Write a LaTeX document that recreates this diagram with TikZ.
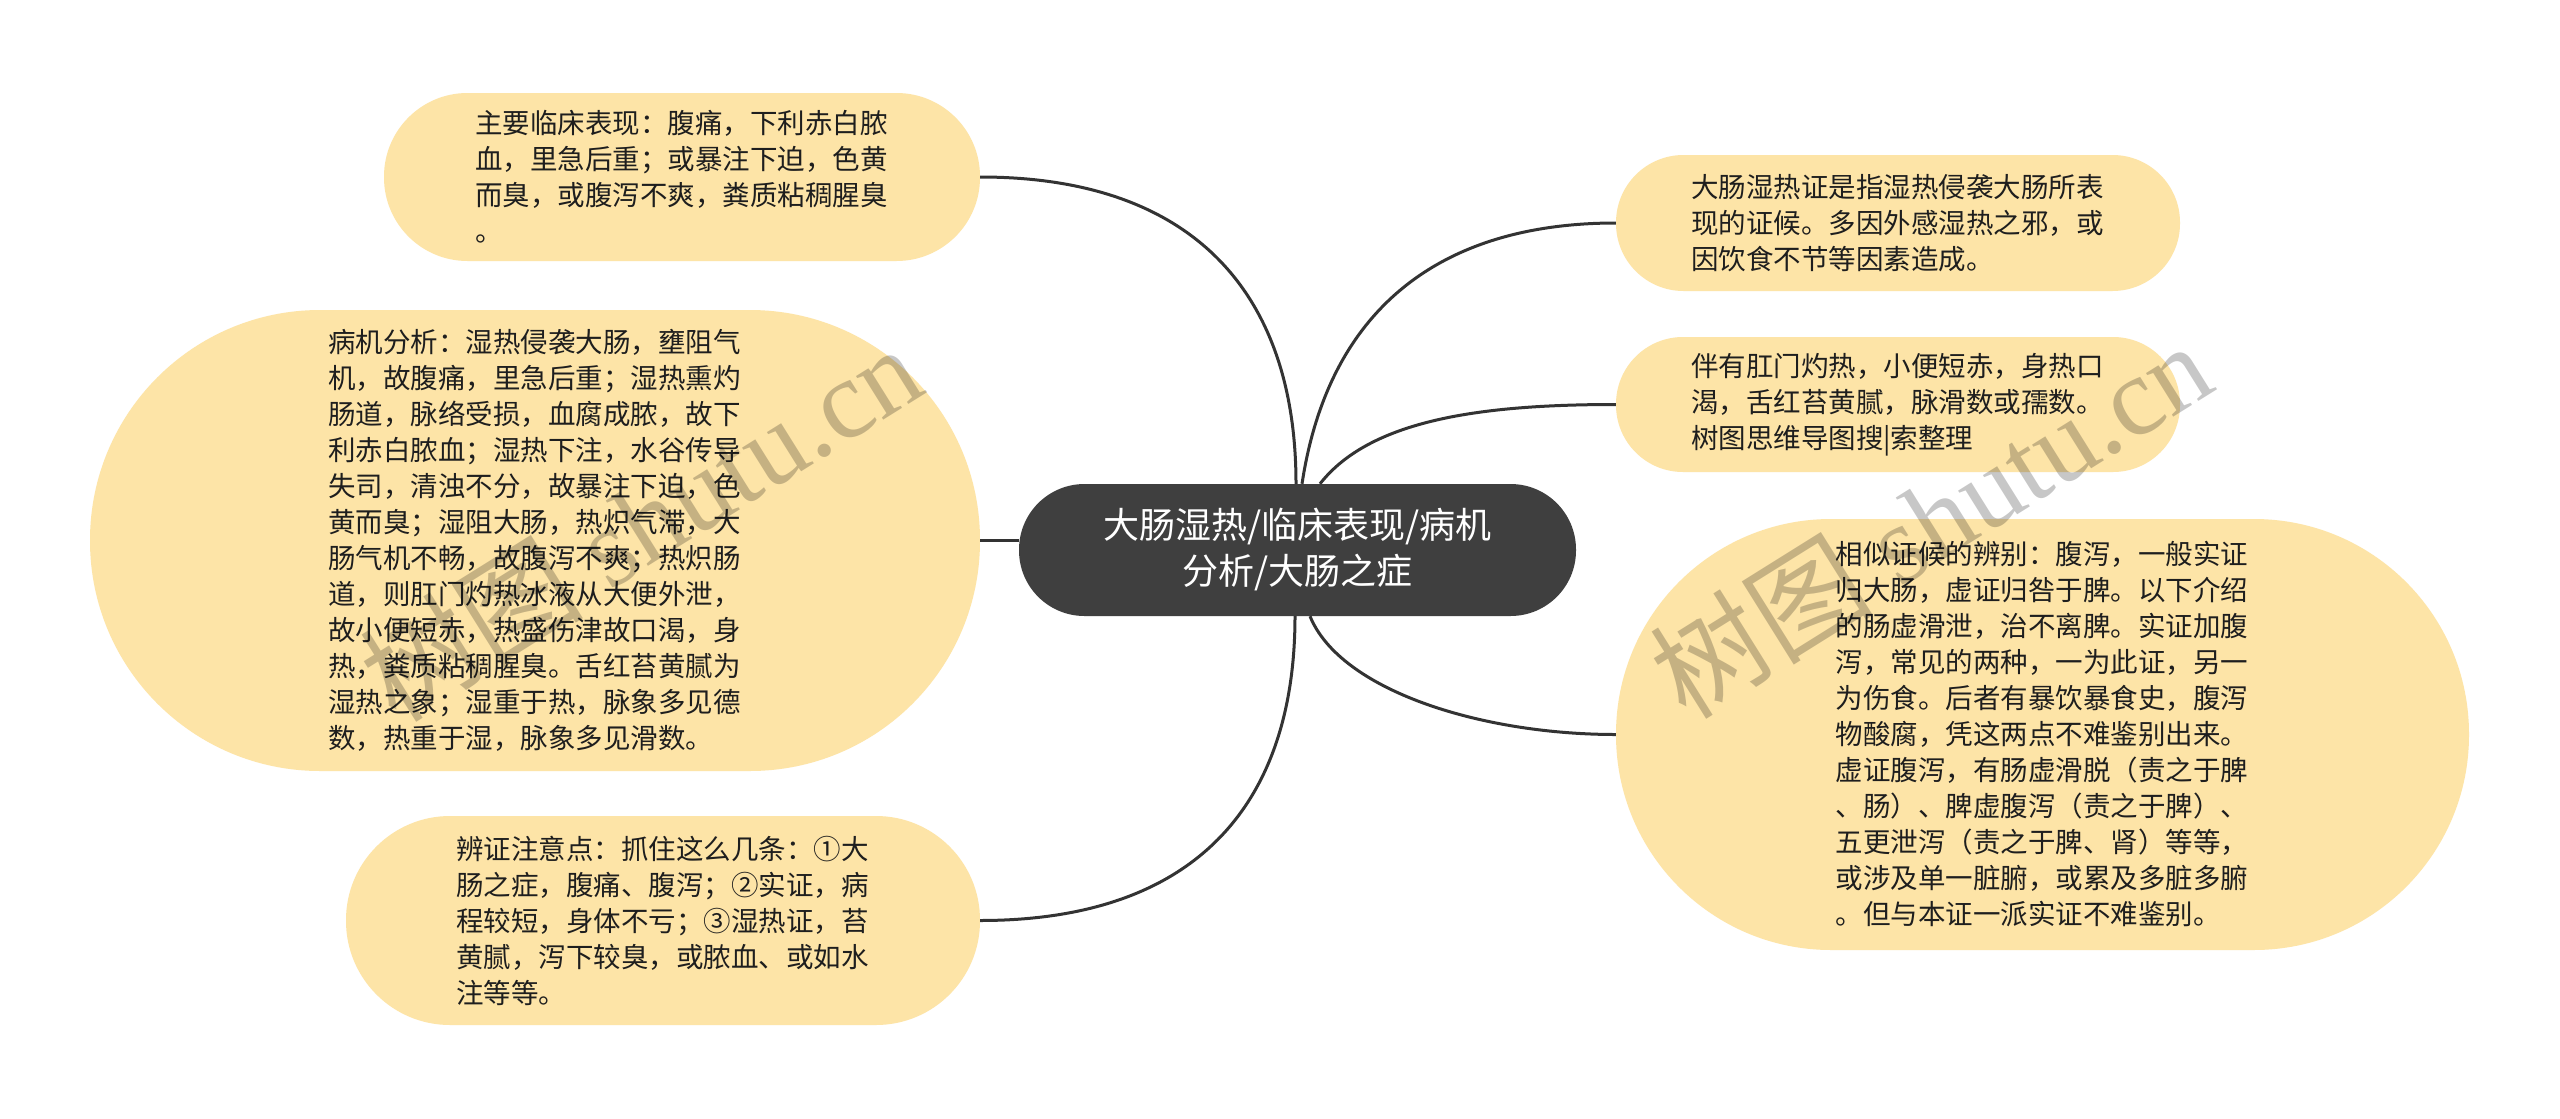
\documentclass[tikz,border=0pt]{standalone}
\usepackage{fontspec}
\newfontfamily\cjk{Noto Sans CJK SC}
\newfontfamily\wmserif{Liberation Serif}
\definecolor{leaf}{RGB}{253,228,167}
\definecolor{hub}{RGB}{63,63,63}
\definecolor{wire}{RGB}{51,51,51}
\definecolor{ink}{RGB}{30,30,30}
\begin{document}
\begin{tikzpicture}[x=1pt,y=-1pt,
  leafbox/.style={fill=leaf, text=ink, align=left, inner sep=0pt, text width=414pt,
    font=\fontsize{27.5}{36}\selectfont\cjk},
  hubbox/.style={fill=hub, text=white, align=center, inner sep=0pt,
    minimum width=557pt, minimum height=132pt, rounded corners=65.5pt,
    font=\fontsize{36}{46}\selectfont\cjk},
  link/.style={draw=wire, line width=3pt},
  wmark/.style={text=black, text opacity=0.22, rotate=32, inner sep=0pt,
    font=\fontsize{112}{112}\selectfont}]
\fill[white] (0,0) rectangle (2560,1119);
\useasboundingbox (0,0) rectangle (2560,1119);

\node[hubbox] (c) at (1297.5,550) {大肠湿热/临床表现/病机\\分析/大肠之症};

\node[leafbox, minimum width=596pt, minimum height=168pt, rounded corners=83.5pt] (n1) at (682,177)
 {主要临床表现：腹痛，下利赤白脓\\血，里急后重；或暴注下迫，色黄\\而臭，或腹泻不爽，粪质粘稠腥臭\\。};

\node[leafbox, minimum width=890pt, minimum height=461pt, rounded corners=230pt] (n2) at (535,540.5)
 {病机分析：湿热侵袭大肠，壅阻气\\机，故腹痛，里急后重；湿热熏灼\\肠道，脉络受损，血腐成脓，故下\\利赤白脓血；湿热下注，水谷传导\\失司，清浊不分，故暴注下迫，色\\黄而臭；湿阻大肠，热炽气滞，大\\肠气机不畅，故腹泻不爽；热炽肠\\道，则肛门灼热冰液从大便外泄，\\故小便短赤，热盛伤津故口渴，身\\热，粪质粘稠腥臭。舌红苔黄腻为\\湿热之象；湿重于热，脉象多见德\\数，热重于湿，脉象多见滑数。};

\node[leafbox, minimum width=634pt, minimum height=209pt, rounded corners=104pt] (n3) at (663,920.5)
 {辨证注意点：抓住这么几条：①大\\肠之症，腹痛、腹泻；②实证，病\\程较短，身体不亏；③湿热证，苔\\黄腻，泻下较臭，或脓血、或如水\\注等等。};

\node[leafbox, minimum width=564pt, minimum height=136pt, rounded corners=67.5pt] (n4) at (1898,223)
 {大肠湿热证是指湿热侵袭大肠所表\\现的证候。多因外感湿热之邪，或\\因饮食不节等因素造成。};

\node[leafbox, minimum width=564pt, minimum height=135pt, rounded corners=67pt] (n5) at (1898,404.5)
 {伴有肛门灼热，小便短赤，身热口\\渴，舌红苔黄腻，脉滑数或孺数。\\树图思维导图搜|索整理};

\node[leafbox, minimum width=853pt, minimum height=431pt, rounded corners=215pt] (n6) at (2042.5,734.5)
 {相似证候的辨别：腹泻，一般实证\\归大肠，虚证归咎于脾。以下介绍\\的肠虚滑泄，治不离脾。实证加腹\\泻，常见的两种，一为此证，另一\\为伤食。后者有暴饮暴食史，腹泻\\物酸腐，凭这两点不难鉴别出来。\\虚证腹泻，有肠虚滑脱（责之于脾\\、肠）、脾虚腹泻（责之于脾）、\\五更泄泻（责之于脾、肾）等等，\\或涉及单一脏腑，或累及多脏多腑\\。但与本证一派实证不难鉴别。};

% connectors
\draw[link] ([xshift=-1.5pt]c.north) .. controls (1296,300) and (1200,177) .. (n1.east);
\draw[link] (n2.east) -- (n2.east -| c.west);
\draw[link] ([xshift=-2.5pt]c.south) .. controls (1295,800) and (1200,920.5) .. (n3.east);
\draw[link] ([xshift=4.5pt]c.north) .. controls (1330,300) and (1450,223) .. (n4.west);
\draw[link] ([xshift=22.5pt]c.north) .. controls (1370,420) and (1480,404.5) .. (n5.west);
\draw[link] ([xshift=12.5pt]c.south) .. controls (1340,690) and (1480,734.5) .. (n6.west);

% watermarks
\node[wmark] (wm1) at (640,522) {\cjk 树图\hspace{0.25em}\wmserif shutu.cn};
\node[wmark] (wm2) at (1930,519) {\cjk 树图\hspace{0.25em}\wmserif shutu.cn};
\end{tikzpicture}
\end{document}
